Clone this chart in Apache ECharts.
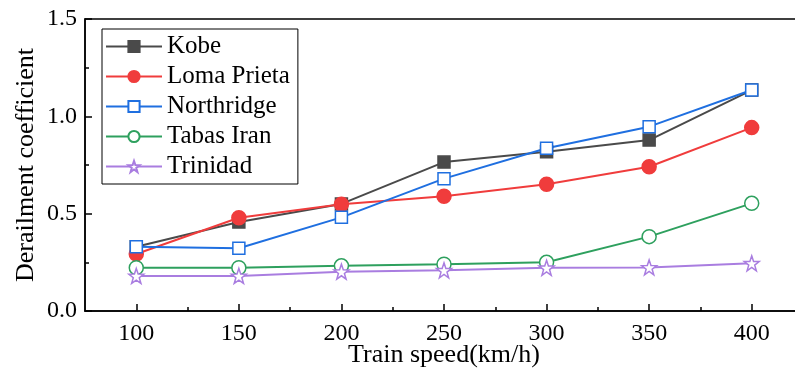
<!DOCTYPE html>
<html><head><meta charset="utf-8">
<script src="https://cdn.jsdelivr.net/npm/echarts@6/dist/echarts.min.js"></script>
<style>html,body{margin:0;padding:0;background:#fff}#c{width:795px;height:370px}</style>
</head><body><div id="c"></div>
<script>
const speeds = [100, 150, 200, 250, 300, 350, 400];
const minorSpeeds = [125, 175, 225, 275, 325, 375];
const kobe = [0.33, 0.457, 0.55, 0.765, 0.818, 0.878, 1.135];
const lomaPrieta = [0.293, 0.479, 0.548, 0.59, 0.651, 0.741, 0.942];
const northridge = [0.33, 0.322, 0.481, 0.68, 0.836, 0.947, 1.135];
const tabasIran = [0.222, 0.222, 0.232, 0.24, 0.25, 0.382, 0.553];
const trinidad = [0.18, 0.18, 0.202, 0.209, 0.222, 0.224, 0.245];
const seriesNames = ['Kobe', 'Loma Prieta', 'Northridge', 'Tabas Iran', 'Trinidad'];

const font = 'Liberation Serif, Times New Roman, serif';
const pair = arr => arr.map((v, i) => [speeds[i], v]);
function mk(name, data, color, symbol, filled, size) {
  return {
    name, type: 'line', data: pair(data), symbol, symbolSize: size,
    lineStyle: { color, width: 2 },
    itemStyle: { color: filled ? color : '#fff', borderColor: color, borderWidth: 1.5 },
    emphasis: { disabled: true }
  };
}
const chart = echarts.init(document.getElementById('c'), null, { renderer: 'canvas' });
chart.setOption({
  animation: false,
  grid: { left: 85, top: 19, right: -8, bottom: 59, outerBoundsMode: 'none', containLabel: false, show: true, borderColor: '#000', borderWidth: 1.5 },
  legend: {
    data: seriesNames, orient: 'vertical', left: 102, top: 29,
    itemWidth: 56, itemHeight: 14, itemGap: 5,
    borderColor: '#000', borderWidth: 1, padding: [5, 8, 5, 3],
    textStyle: { fontFamily: font, fontSize: 25, color: '#000' }
  },
  xAxis: [{
    type: 'value', min: 75, max: 425,
    name: 'Train speed(km/h)', nameLocation: 'middle', nameGap: 31, nameMoveOverlap: false,
    nameTextStyle: { fontFamily: font, fontSize: 26, color: '#000' },
    axisLine: { show: true, lineStyle: { color: '#000', width: 1.5 } },
    axisTick: { show: true, inside: true, length: 7, customValues: speeds, lineStyle: { color: '#000', width: 1.5 } },
    axisLabel: { customValues: speeds, fontFamily: font, fontSize: 24, color: '#000', margin: 11 },
    splitLine: { show: false }
  }, {
    type: 'value', min: 75, max: 425, position: 'bottom',
    axisLine: { show: false },
    axisTick: { show: true, inside: true, length: 4, customValues: minorSpeeds, lineStyle: { color: '#000', width: 1.5 } },
    axisLabel: { show: false, customValues: minorSpeeds }, splitLine: { show: false }
  }],
  yAxis: {
    type: 'value', min: 0, max: 1.5, interval: 0.5,
    name: 'Derailment coefficient', nameLocation: 'middle', nameGap: 46, nameMoveOverlap: false,
    nameTextStyle: { fontFamily: font, fontSize: 26, color: '#000' },
    axisLine: { show: true, lineStyle: { color: '#000', width: 1.5 } },
    axisTick: { show: true, inside: true, length: 7, lineStyle: { color: '#000', width: 1.5 } },
    minorTick: { show: true, splitNumber: 2, length: 4, lineStyle: { color: '#000', width: 1.5 } },
    axisLabel: { fontFamily: font, fontSize: 24, color: '#000', margin: 8, formatter: v => v.toFixed(1) },
    splitLine: { show: false }
  },
  series: [
    mk(seriesNames[0], kobe, '#4a4a4a', 'rect', true, 12),
    mk(seriesNames[1], lomaPrieta, '#f03c3c', 'circle', true, 14),
    mk(seriesNames[2], northridge, '#1f6fe0', 'rect', false, 12),
    mk(seriesNames[3], tabasIran, '#2ea05e', 'circle', false, 14),
    mk(seriesNames[4], trinidad, '#a97de0', 'path://M0,-10 L2.35,-3.24 L9.51,-3.09 L3.8,1.24 L5.88,8.09 L0,4 L-5.88,8.09 L-3.8,1.24 L-9.51,-3.09 L-2.35,-3.24 Z', false, 15)
  ]
});
</script></body></html>
